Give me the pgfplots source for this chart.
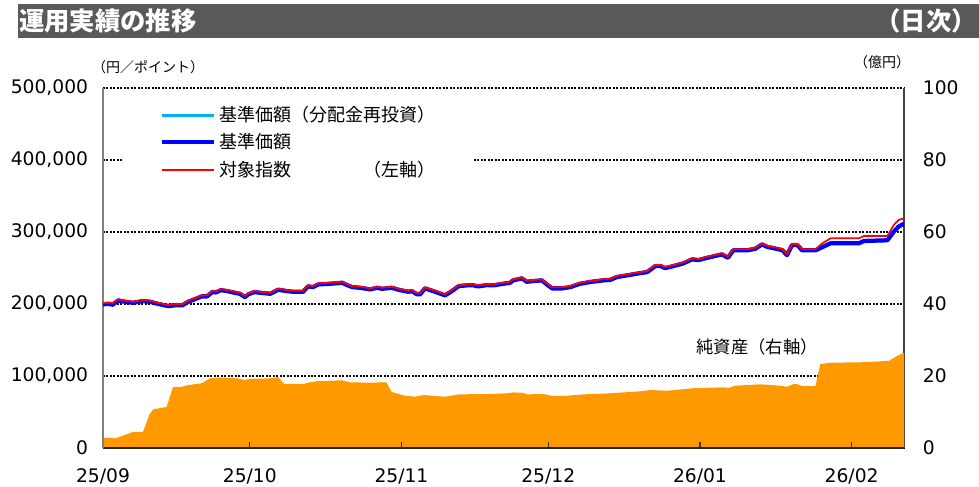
\documentclass[border=0pt]{standalone}
\usepackage{fontspec}
\setmainfont{DejaVu Sans}
\newfontfamily\jp{Noto Sans CJK JP}
\usepackage{pgfplots}
\pgfplotsset{compat=1.18}
\usepackage{pgfplotstable}
\definecolor{barbg}{HTML}{595959}
\definecolor{navblue}{HTML}{0000FF}
\definecolor{reinv}{HTML}{00B0F0}
\definecolor{idxred}{HTML}{FF0000}
\definecolor{areaor}{HTML}{FF9900}
\definecolor{axgray}{HTML}{808080}

\pgfplotstableread{
d idx nav
0 201000 199500
1.0 201800 200300
2.0 201500 199000
3.1 206500 205000
4.5 204600 203100
6.1 203200 201700
8.2 205600 204100
9.6 204600 203100
11.2 201800 200300
13.3 198600 197100
15.1 200000 198500
16.2 199600 198100
17.4 204600 203100
19.2 209300 207800
20.2 212100 210600
21.3 212100 210600
22.3 218100 216600
23.1 217600 216100
24.1 220800 219300
25.4 219400 217900
26.6 217600 216100
28.0 215700 214200
29.0 211100 209600
29.7 214900 213400
30.9 218100 216600
32.1 217100 215600
34.2 215700 214200
35.8 221300 219800
37.6 219400 217900
38.9 218500 217000
40.9 218500 217000
41.9 226000 224500
42.9 225000 223500
44.0 228700 227200
46.4 229600 228100
48.9 231000 229500
49.9 227800 226300
50.9 225000 223500
52.6 224000 222500
54.6 221800 220300
56.0 224000 222500
57.0 222600 221100
59.0 224000 222500
60.7 220800 219300
62.4 218500 217000
63.1 219400 217900
64.2 214900 213400
64.8 214900 213400
65.8 223200 221700
67.5 219400 217900
69.9 213500 212000
71.3 219400 217900
72.7 226400 224900
74.4 227400 225900
75.7 227400 225900
76.7 226000 224500
78.5 227800 226300
79.8 227400 225900
81.8 229600 228100
83.2 231000 229500
83.8 234300 232800
85.6 237100 235600
86.6 232400 230900
87.9 233300 231800
89.7 234300 232800
90.7 228700 227200
91.8 223200 221700
93.8 223200 221700
95.5 225000 223500
97.5 229600 228100
99.9 232400 230900
102.2 234300 232800
103.7 235100 233600
105.0 238900 237400
107.1 241300 239800
109.8 244400 242900
111.2 245800 244300
112.9 254200 252700
113.9 254200 252700
114.9 251400 249900
116.6 254200 252700
118.6 257900 256400
120.4 263500 262000
121.7 262500 261000
123.5 265700 264200
126.5 270400 268900
127.7 265700 264200
128.8 276000 274500
131.6 276000 274500
133.3 278200 276700
134.7 284300 282800
135.7 281000 279500
138.8 276400 274900
139.8 269400 267900
140.8 283300 281800
141.9 283300 281800
142.9 276000 274500
145.6 276000 274500
147.0 284300 279000
148.7 291200 284300
154.5 291200 284300
155.5 294400 287500
160.3 294400 288500
161.6 309700 300400
162.6 316700 307500
163.7 319000 311500
}\lines

\pgfplotstableread{
d na
0 2.86
2.8 2.78
6.2 4.5
8.2 4.5
9.5 9.35
10.3 10.75
13.0 11.4
14.3 16.9
16.1 17.0
17.1 17.4
20.2 18.0
21.9 19.35
23.9 19.6
27.3 19.35
29.0 18.9
30.1 19.25
32.1 19.25
34.5 19.4
35.8 19.7
37.0 17.8
41.0 17.8
42.3 18.25
44.0 18.6
48.8 18.8
50.5 18.25
54.6 18.15
57.9 18.25
59.0 15.55
61.8 14.5
63.8 14.25
65.5 14.7
69.9 14.25
72.7 14.9
79.1 15.0
82.6 15.2
84.0 15.45
86.0 15.3
86.6 14.9
90.0 15.0
91.8 14.5
94.1 14.45
98.2 14.9
103.7 15.2
109.8 15.75
111.9 16.1
115.3 15.9
120.7 16.6
126.9 16.85
127.9 16.7
129.2 17.3
134.4 17.7
138.4 17.3
139.8 17.0
141.2 17.8
141.9 17.7
142.9 17.2
145.6 17.2
146.6 23.3
148.7 23.7
154.8 23.8
160.6 24.2
162.6 25.8
163.7 26.4
}\assets

\begin{document}
\begin{tikzpicture}[x=0.75pt,y=0.75pt]
\path[use as bounding box] (0,0) rectangle (979,486);
\fill[barbg] (18,448) rectangle (979,482);
\node[anchor=west,text=white,inner sep=0pt,font=\jp\bfseries\fontsize{19}{22}\selectfont] at (19,465) {運用実績の推移};
\node[anchor=east,text=white,inner sep=0pt,font=\jp\bfseries\fontsize{19}{22}\selectfont] at (977,465) {（日次）};
\node[font=\jp\fontsize{10.5}{12}\selectfont] at (148,419) {（円／ポイント）};
\node[font=\jp\fontsize{10.5}{12}\selectfont] at (882,424) {（億円）};

% area axis (right scale)
\begin{axis}[
  at={(77.25pt,28.5pt)}, anchor=south west,
  scale only axis, width=600.75pt, height=270pt,
  xmin=0, xmax=163.7, ymin=0, ymax=100,
  axis x line=none, axis y line*=right,
  y axis line style={draw=black!75, line width=0.8pt, -},
  ytick={0,20,...,100},
  ymajorgrids,
  grid style={black, line width=1.5pt, dash pattern=on 1.5pt off 1.1pt},
  ytick style={draw=none},
  yticklabel style={font=\fontsize{14}{16}\selectfont, anchor=west, inner sep=0pt, xshift=14pt},
  /pgf/number format/assume math mode=true,
]
\addplot[fill=areaor, draw=none] table[x=d,y=na]{\assets} \closedcycle;
\end{axis}

% lines axis (left scale)
\begin{axis}[
  at={(77.25pt,28.5pt)}, anchor=south west,
  scale only axis, width=600.75pt, height=270pt,
  xmin=0, xmax=163.7, ymin=0, ymax=500000,
  axis x line*=bottom, axis y line*=left,
  x axis line style={draw=black!85, line width=1.2pt, -},
  y axis line style={draw=axgray, line width=1pt, -},
  xtick={0,30,61,91,122,153},
  xticklabels={25/09,25/10,25/11,25/12,26/01,26/02},
  xtick style={draw=black!80, line width=1pt},
  major tick length=4.5pt, tick align=inside,
  ytick={0,100000,200000,300000,400000,500000},
  ytick style={draw=none},
  scaled y ticks=false,
  xticklabel style={font=\fontsize{14}{16}\selectfont, anchor=north, inner sep=0pt, yshift=-15.5pt},
  yticklabel style={font=\fontsize{14}{16}\selectfont, anchor=east, inner sep=0pt, xshift=-11pt},
  /pgf/number format/fixed,
  /pgf/number format/1000 sep={,},
  /pgf/number format/assume math mode=true,
  legend cell align=left,
  legend style={at={(rel axis cs:0.026,0.972)}, anchor=north west, draw=none, fill=white,
    font=\jp\fontsize{13.5}{15}\selectfont, inner xsep=27pt, inner ysep=4pt,
    row sep=3.5pt},
  legend image code/.code={\draw[#1] (0pt,0pt) -- (39pt,0pt);},
]
\addplot[reinv, line width=2.3pt, line join=round] table[x=d,y=nav]{\lines};
\addlegendentry{基準価額（分配金再投資）}
\addplot[navblue, line width=3.2pt, line join=round] table[x=d,y=nav]{\lines};
\addlegendentry{基準価額}
\addplot[idxred, line width=1.3pt, line join=round] table[x=d,y=idx]{\lines};
\addlegendentry{対象指数\hspace{4em}（左軸）}
\end{axis}

\node[font=\jp\fontsize{13}{15}\selectfont] at (757,139) {純資産（右軸）};
\end{tikzpicture}
\end{document}
